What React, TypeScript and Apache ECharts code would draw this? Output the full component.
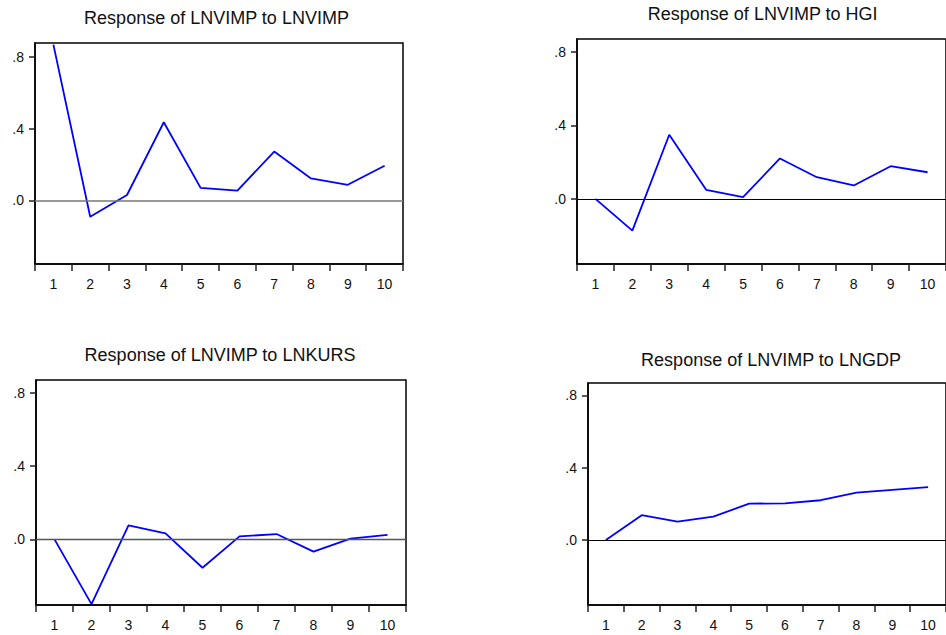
import React, { useEffect, useRef } from "react";
import * as echarts from "echarts";

const periods = ["1", "2", "3", "4", "5", "6", "7", "8", "9", "10"];
const respLNVIMP = [0.867, -0.091, 0.03, 0.435, 0.07, 0.054, 0.272, 0.122, 0.087, 0.193];
const respHGI = [0.0, -0.173, 0.349, 0.049, 0.009, 0.22, 0.118, 0.073, 0.178, 0.145];
const respLNKURS = [0.0, -0.353, 0.076, 0.033, -0.155, 0.016, 0.029, -0.067, 0.004, 0.024];
const respLNGDP = [0.0, 0.137, 0.101, 0.129, 0.201, 0.203, 0.22, 0.262, 0.277, 0.292];
const yTickValues = [0, 0.4, 0.8];
const titles = [
  "Response of LNVIMP to LNVIMP",
  "Response of LNVIMP to HGI",
  "Response of LNVIMP to LNKURS",
  "Response of LNVIMP to LNGDP",
];
const seriesData = [respLNVIMP, respHGI, respLNKURS, respLNGDP];

const panels = [
  { left: 35, top: 43, width: 368, height: 221, min: -0.354, max: 0.876, tx: 216.5, ty: 9, zero: "#777777", zw: 1.6 },
  { left: 577, top: 39, width: 372, height: 225, min: -0.355, max: 0.871, tx: 762.7, ty: 5, zero: "#000000", zw: 1 },
  { left: 36, top: 380, width: 370, height: 225, min: -0.358, max: 0.869, tx: 220, ty: 346, zero: "#555555", zw: 1.3 },
  { left: 588, top: 383, width: 368, height: 222, min: -0.36, max: 0.869, tx: 771, ty: 351, zero: "#000000", zw: 1 },
];

const FONT = "'Liberation Sans', Arial, sans-serif";

export default function App() {
  const ref = useRef<HTMLDivElement>(null);
  useEffect(() => {
    document.body.style.margin = "0";
    if (!ref.current) return;
    const chart = echarts.init(ref.current, null, { renderer: "svg" });
    const option: any = {
      animation: false,
      backgroundColor: "#ffffff",
      title: panels.map((p, i) => ({
        text: titles[i],
        left: p.tx,
        top: p.ty,
        textAlign: "center",
        padding: 0,
        textStyle: { fontFamily: FONT, fontSize: 18, fontWeight: "normal", color: "#111" },
      })),
      grid: panels.map((p) => ({
        left: p.left,
        top: p.top,
        width: p.width,
        height: p.height,
        show: true,
        borderColor: "#000",
        borderWidth: 1.5,
        backgroundColor: "#fff",
        containLabel: false,
      })),
      xAxis: panels.map((p, i) => ({
        type: "category",
        gridIndex: i,
        data: periods,
        boundaryGap: true,
        axisLine: { show: true, onZero: false, lineStyle: { color: "#000", width: 1.5 } },
        axisTick: { show: true, interval: 0, alignWithLabel: false, length: 7, lineStyle: { color: "#222", width: 1.5 } },
        axisLabel: { interval: 0, margin: 13, fontFamily: FONT, fontSize: 14, color: "#111" },
        splitLine: { show: false },
      })),
      yAxis: panels.map((p, i) => ({
        type: "value",
        gridIndex: i,
        min: p.min,
        max: p.max,
        axisLine: { show: true, onZero: false, lineStyle: { color: "#000", width: 1.5 } },
        axisTick: { show: true, customValues: yTickValues, length: 6, lineStyle: { color: "#222", width: 1.5 } },
        axisLabel: {
          customValues: yTickValues,
          margin: 11,
          fontFamily: FONT,
          fontSize: 14,
          color: "#111",
          formatter: (v: number) => "." + Math.round(v * 10),
        },
        splitLine: { show: false },
      })),
      series: panels.map((p, i) => ({
        type: "line",
        xAxisIndex: i,
        yAxisIndex: i,
        data: seriesData[i],
        showSymbol: false,
        symbol: "none",
        lineStyle: { color: "#0000ff", width: 1.8 },
        itemStyle: { color: "#0000ff" },
        markLine: {
          silent: true,
          symbol: "none",
          label: { show: false },
          lineStyle: { color: p.zero, width: p.zw, type: "solid" },
          data: [{ yAxis: 0 }],
        },
        z: 3,
      })),
    };
    chart.setOption(option);
    return () => chart.dispose();
  }, []);
  return <div ref={ref} style={{ width: 946, height: 635 }} />;
}
